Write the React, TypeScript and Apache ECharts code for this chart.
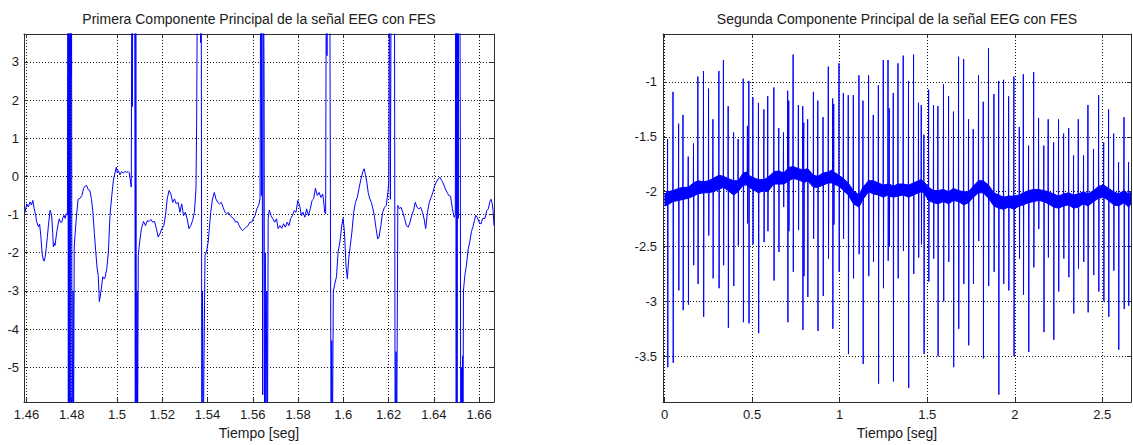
import React, { useEffect, useRef } from "react";
import * as echarts from "echarts";

// ---- text -----------------------------------------------------------------
const firstTitle = "Primera Componente Principal de la señal EEG con FES";
const secondTitle = "Segunda Componente Principal de la señal EEG con FES";
const timeLabel = "Tiempo [seg]";

// ---- first principal component (zoomed window, seconds / amplitude) -------
// Values beyond the visible range (6 / -7) are the saturated FES artefacts.
const firstComponent: Array<[number, number]> = [
  [1.4589, -0.93], [1.4594, -0.93], [1.4601, -0.72], [1.4608, -0.8], [1.4616, -0.67],
  [1.4622, -0.75], [1.4628, -0.63], [1.4634, -0.85], [1.464, -1.0], [1.4645, -1.19],
  [1.4653, -1.32], [1.4658, -1.25], [1.4663, -1.54], [1.4669, -2.02], [1.4675, -2.2],
  [1.4678, -2.22], [1.4683, -2.1], [1.4687, -1.89], [1.4692, -1.6], [1.4697, -1.28],
  [1.4704, -0.89], [1.4708, -0.95], [1.4712, -1.09], [1.4716, -1.5], [1.4719, -1.85],
  [1.4723, -1.75], [1.4726, -1.81], [1.4734, -1.45], [1.474, -1.25], [1.4745, -1.11],
  [1.475, -1.2], [1.4756, -1.2], [1.4761, -1.08], [1.4766, -1.02], [1.4771, -1.1],
  [1.4775, -0.98], [1.4781, -1.0],
  // artefact 1
  [1.4783, 6], [1.4785, -7], [1.4787, 6], [1.4789, -7], [1.4791, 6], [1.4793, -7],
  [1.4795, 6], [1.4797, 2.6], [1.4799, 6], [1.4801, -7], [1.4804, -7], [1.4806, -3],
  [1.4808, -7],
  [1.4811, -1.85], [1.4815, -1.5], [1.482, -1.1], [1.4828, -0.6], [1.4836, -0.58],
  [1.4845, -0.5], [1.4852, -0.32], [1.4858, -0.26], [1.4866, -0.24], [1.4873, -0.35],
  [1.488, -0.37], [1.4887, -0.6], [1.4893, -0.9], [1.49, -1.5], [1.4906, -1.97],
  [1.4912, -2.4], [1.4917, -2.59], [1.4922, -3.28], [1.4929, -3.02], [1.4937, -2.63],
  [1.4942, -2.68], [1.4947, -2.66], [1.4955, -2.41], [1.4962, -1.98], [1.4969, -1.02],
  [1.4977, -0.5], [1.4984, -0.1], [1.4992, 0.12], [1.4997, 0.24], [1.5001, 0.1],
  [1.5006, 0.15], [1.5013, 0.04], [1.502, 0.12], [1.5028, 0.09], [1.5036, 0.13],
  [1.5043, 0.1], [1.5049, 0.13], [1.5054, 0.1], [1.506, -0.15], [1.5063, -0.28],
  // artefact 2
  [1.5066, 6], [1.5068, 1.83], [1.507, 6], [1.5078, 6], [1.5081, -7], [1.5083, 6],
  [1.5086, -7], [1.5089, -3.0], [1.5091, -7],
  [1.5094, -2.07], [1.51, -1.72], [1.5108, -1.37], [1.5117, -1.18], [1.5126, -1.29],
  [1.5134, -1.16], [1.5142, -1.18], [1.515, -1.13], [1.5158, -1.2], [1.5166, -1.18],
  [1.5174, -1.37], [1.5182, -1.59], [1.519, -1.5], [1.5198, -1.37], [1.5207, -1.29],
  [1.5214, -1.03], [1.5222, -0.59], [1.523, -0.37], [1.5238, -0.46], [1.5246, -0.68],
  [1.5254, -0.59], [1.5262, -0.72], [1.527, -0.68], [1.5278, -0.94], [1.5286, -0.72],
  [1.5294, -1.03], [1.5302, -0.94], [1.531, -1.11], [1.5318, -1.37], [1.5326, -1.29],
  [1.5334, -1.16], [1.5342, -0.94], [1.5349, -0.33],
  // artefact 3
  [1.5352, 1.42], [1.5356, 6], [1.5366, 6], [1.537, 3.5], [1.5372, 6], [1.5375, -7],
  [1.5378, -3.0], [1.5381, -7],
  [1.5389, -2.07], [1.5396, -1.95], [1.5403, -1.72], [1.5409, -1.3], [1.5414, -0.94],
  [1.5422, -0.59], [1.543, -0.42], [1.5437, -0.59], [1.5445, -0.68], [1.5453, -0.72],
  [1.5461, -0.68], [1.5469, -0.81], [1.5477, -0.94], [1.5485, -0.98], [1.5492, -0.94],
  [1.55, -1.03], [1.5508, -1.07], [1.5516, -1.11], [1.5524, -1.2], [1.5532, -1.18],
  [1.554, -1.29], [1.5547, -1.37], [1.5555, -1.42], [1.5563, -1.37], [1.5571, -1.33],
  [1.5579, -1.29], [1.5587, -1.2], [1.5595, -1.2], [1.5602, -1.11], [1.561, -1.03],
  [1.5618, -0.85], [1.5626, -0.76], [1.5632, -0.59],
  // artefact 4
  [1.5635, 6], [1.5638, -0.5], [1.564, 6], [1.5644, -5.72], [1.5647, 6], [1.565, 2.5],
  [1.5652, -7], [1.5655, -2.0], [1.5658, -7], [1.5662, -3.0], [1.5665, -7],
  [1.5668, -1.11], [1.5673, -0.88], [1.5681, -1.03], [1.5689, -1.11], [1.5697, -1.2],
  [1.5705, -1.11], [1.5712, -1.37], [1.572, -1.29], [1.5728, -1.36], [1.5736, -1.24],
  [1.5744, -1.33], [1.5752, -1.2], [1.576, -1.29], [1.5767, -1.11], [1.5775, -1.03],
  [1.5783, -0.9], [1.5791, -0.94], [1.5799, -0.63], [1.5807, -0.76], [1.5815, -1.03],
  [1.5822, -0.94], [1.583, -1.07], [1.5838, -0.85], [1.5846, -1.03], [1.5854, -0.85],
  [1.5862, -0.63], [1.5869, -0.59], [1.5877, -0.31], [1.5885, -0.5], [1.5893, -0.42],
  [1.5901, -0.55], [1.5909, -0.46], [1.5914, -0.7], [1.5918, -0.94], [1.5922, -0.98],
  // artefact 5
  [1.5925, 6], [1.5928, 3.16], [1.5931, 6], [1.594, 6], [1.5946, -7], [1.5949, -4.3],
  [1.5952, -7],
  [1.5956, -3.01], [1.5963, -2.8], [1.597, -2.63], [1.5977, -1.98], [1.5985, -1.72],
  [1.5993, -1.3], [1.5999, -1.1], [1.6005, -1.45], [1.6012, -2.33], [1.6018, -2.68],
  [1.6024, -2.15], [1.6031, -1.81], [1.6038, -1.46], [1.6046, -0.94], [1.6054, -0.68],
  [1.6062, -0.55], [1.607, -0.3], [1.6078, -0.07], [1.6086, 0.12], [1.6092, 0.2],
  [1.6098, 0.05], [1.6104, -0.15], [1.611, -0.42], [1.6117, -0.59], [1.6124, -0.68],
  [1.6131, -0.85], [1.6138, -1.07], [1.6145, -1.37], [1.6152, -1.64], [1.6158, -1.59],
  [1.6166, -1.29], [1.6174, -0.94], [1.6182, -0.81], [1.619, -0.76], [1.6197, -0.42],
  [1.6201, -0.15],
  // artefact 6
  [1.6204, 6], [1.6208, -0.6], [1.6212, 6], [1.6226, 6], [1.6229, -7], [1.6233, -4.59],
  [1.6236, -7],
  [1.6241, -0.76], [1.6248, -0.85], [1.6255, -0.81], [1.6263, -0.94], [1.6271, -1.11],
  [1.6279, -1.29], [1.6287, -1.33], [1.6295, -1.2], [1.6302, -1.03], [1.631, -0.9],
  [1.6318, -0.68], [1.6326, -0.81], [1.6334, -0.85], [1.6342, -0.81], [1.635, -0.94],
  [1.6357, -1.11], [1.6364, -1.37], [1.6372, -0.94], [1.638, -0.68], [1.6388, -0.55],
  [1.6396, -0.42], [1.6404, -0.24], [1.6411, -0.15], [1.6419, -0.07], [1.6427, -0.02],
  [1.6435, -0.11], [1.6443, -0.2], [1.6451, -0.33], [1.6459, -0.42], [1.6466, -0.5],
  [1.6474, -0.52], [1.6482, -0.85], [1.649, -1.07], [1.6495, -1.0],
  // artefact 7
  [1.6497, 6], [1.6499, -7], [1.6501, 6], [1.6503, -7], [1.6505, 6], [1.6508, -1.1],
  [1.651, 6], [1.6515, 6], [1.6517, 1.4], [1.6519, -7], [1.6522, -5.0], [1.6524, -7],
  [1.6527, -4.7], [1.6529, -7],
  [1.6531, -3.0], [1.6537, -2.6], [1.6544, -2.33], [1.6552, -1.9], [1.6559, -1.72],
  [1.6566, -1.45], [1.6573, -1.32], [1.658, -1.15], [1.6585, -1.02], [1.6592, -1.07],
  [1.66, -1.2], [1.6608, -1.25], [1.6616, -1.1], [1.6626, -1.1], [1.6634, -0.9],
  [1.6641, -0.85], [1.6648, -0.65], [1.6653, -0.6], [1.6658, -0.7], [1.6662, -0.9],
  [1.6666, -1.29],
];

// ---- second principal component (full record) -----------------------------
// One entry per stimulation artefact: time, positive peak, negative peak.
const secondSpikeTimes = [
  0.017, 0.048, 0.08, 0.105, 0.135, 0.165, 0.19, 0.222, 0.251, 0.276,
  0.31, 0.336, 0.363, 0.394, 0.42, 0.449, 0.473, 0.481, 0.504, 0.536,
  0.567, 0.589, 0.624, 0.652, 0.679, 0.703, 0.709, 0.734, 0.764, 0.789,
  0.795, 0.817, 0.85, 0.875, 0.905, 0.935, 0.96, 0.966, 0.996, 1.021,
  1.049, 1.078, 1.11, 1.133, 1.165, 1.192, 1.221, 1.249, 1.276, 1.283,
  1.306, 1.333, 1.363, 1.393, 1.422, 1.45, 1.466, 1.481, 1.508, 1.536,
  1.561, 1.593, 1.622, 1.65, 1.679, 1.708, 1.736, 1.763, 1.793, 1.82,
  1.85, 1.881, 1.908, 1.936, 1.965, 1.995, 2.026, 2.049, 2.079, 2.108,
  2.136, 2.166, 2.191, 2.222, 2.25, 2.279, 2.308, 2.336, 2.363, 2.393,
  2.418, 2.45, 2.479, 2.508, 2.536, 2.565, 2.593, 2.624, 2.65,
];
const secondSpikeHigh = [
  -1.52, -1.09, -1.38, -1.3, -1.68, -1.56, -0.95, -0.9, -1.06, -1.34,
  -0.9, -0.8, -1.22, -1.46, -1.52, -0.97, -1.4, -0.99, -1.14, -1.19,
  -1.25, -1.13, -1.05, -1.42, -1.46, -1.08, -1.17, -0.75, -1.21, -1.22,
  -1.37, -1.34, -1.09, -1.17, -1.32, -0.86, -1.15, -1.2, -0.83, -1.1,
  -1.12, -1.12, -0.94, -1.17, -0.94, -1.3, -1.03, -0.8, -0.8, -1.24,
  -1.1, -0.83, -0.76, -0.99, -0.75, -1.19, -1.21, -1.48, -1.07, -1.21,
  -1.22, -1.02, -1.13, -1.27, -0.77, -0.79, -1.34, -1.43, -0.94, -1.18,
  -0.69, -1.11, -0.99, -0.98, -1.13, -0.95, -1.41, -0.93, -1.58, -0.91,
  -1.33, -1.58, -1.34, -1.55, -1.34, -1.47, -1.42, -1.67, -1.34, -1.67,
  -1.21, -1.61, -1.12, -1.55, -1.25, -1.47, -1.73, -1.32, -1.73,
];
const secondSpikeLow = [
  -3.6, -3.56, -2.9, -3.08, -3.03, -2.67, -2.84, -3.14, -2.4, -2.79,
  -2.88, -2.67, -3.24, -2.86, -2.49, -3.19, -2.29, -3.2, -2.48, -3.29,
  -2.46, -2.36, -2.81, -2.55, -2.14, -3.19, -2.36, -2.73, -2.35, -3.26,
  -2.77, -2.96, -2.43, -3.27, -2.95, -2.61, -3.25, -2.3, -2.73, -2.43,
  -3.48, -2.79, -2.57, -3.57, -2.77, -2.64, -3.75, -2.88, -2.63, -2.5,
  -3.73, -2.79, -2.54, -3.79, -2.75, -2.6, -2.48, -3.48, -2.82, -2.61,
  -3.5, -3.0, -2.64, -3.6, -3.25, -2.84, -3.4, -2.84, -2.45, -3.52,
  -2.86, -2.73, -3.85, -2.84, -2.9, -3.5, -2.61, -2.94, -3.46, -2.69,
  -2.34, -3.28, -2.6, -3.35, -2.91, -2.61, -2.78, -3.11, -2.7, -2.64,
  -3.1, -2.76, -2.91, -3.0, -3.14, -2.72, -3.44, -3.07, -3.04,
];
// Envelope of the noisy background: record start, one value after every
// artefact, record end.
const secondRecordStart = 0.002;
const secondRecordEnd = 2.664;
const secondBandTop = [
  -2.02, -2.0, -1.99, -1.97, -1.96, -1.96, -1.92, -1.9, -1.91, -1.9,
  -1.88, -1.85, -1.86, -1.88, -1.9, -1.9, -1.83, -1.82, -1.85, -1.87,
  -1.89, -1.89, -1.87, -1.82, -1.81, -1.83, -1.79, -1.78, -1.77, -1.79,
  -1.8, -1.8, -1.79, -1.85, -1.86, -1.83, -1.82, -1.8, -1.82, -1.85,
  -1.88, -1.92, -1.99, -2.03, -1.96, -1.9, -1.9, -1.92, -1.94, -1.93,
  -1.93, -1.95, -1.93, -1.93, -1.94, -1.92, -1.9, -1.89, -1.91, -1.96,
  -1.99, -1.99, -1.98, -2.0, -1.97, -1.99, -2.0, -2.0, -1.95, -1.9,
  -1.9, -1.94, -2.01, -2.03, -2.05, -2.04, -2.04, -2.03, -2.01, -1.99,
  -1.98, -1.98, -1.99, -2.0, -2.02, -2.04, -2.02, -2.01, -2.03, -2.02,
  -2.0, -2.02, -1.99, -1.95, -1.94, -1.97, -2.0, -2.02, -1.99, -2.02,
  -2.0,
];
const secondBandBottom = [
  -2.13, -2.12, -2.09, -2.08, -2.07, -2.06, -2.04, -2.02, -2.01, -2.01,
  -2.0, -1.98, -1.96, -1.99, -2.03, -2.0, -1.94, -1.94, -1.96, -1.98,
  -2.01, -1.99, -2.0, -1.93, -1.93, -1.93, -1.91, -1.9, -1.88, -1.89,
  -1.91, -1.92, -1.9, -1.96, -1.96, -1.94, -1.92, -1.92, -1.93, -1.95,
  -1.99, -2.03, -2.11, -2.14, -2.07, -2.0, -2.02, -2.03, -2.05, -2.03,
  -2.04, -2.05, -2.04, -2.03, -2.05, -2.03, -2.01, -2.0, -2.01, -2.08,
  -2.1, -2.11, -2.09, -2.11, -2.08, -2.09, -2.12, -2.1, -2.05, -2.01,
  -2.01, -2.06, -2.13, -2.15, -2.16, -2.14, -2.16, -2.13, -2.12, -2.1,
  -2.09, -2.08, -2.09, -2.11, -2.14, -2.15, -2.13, -2.12, -2.15, -2.14,
  -2.11, -2.13, -2.09, -2.06, -2.05, -2.08, -2.12, -2.13, -2.1, -2.14,
  -2.11,
];

// ---- axis windows -----------------------------------------------------------
const firstX = { min: 1.4589, max: 1.6666, step: 0.02 };
const firstY = { min: -5.91, max: 3.73, step: 1 };
const secondX = { min: -0.0092, max: 2.664, step: 0.5 };
const secondY = { min: -3.917, max: -0.5625, step: 0.5 };

const FONT = '"Liberation Sans", Arial, Helvetica, sans-serif';
const INK = "#1a1a1a";
const FRAME = "#2e2e2e";
const TRACE = "#0000ff";

function axisPair(
  kind: "x" | "y",
  gridIndex: number,
  range: { min: number; max: number; step: number },
  labelMargin: number,
  withName: boolean
) {
  const common = {
    type: "value",
    gridIndex,
    min: range.min,
    max: range.max,
    minInterval: range.step,
    maxInterval: range.step,
    splitNumber: Math.round((range.max - range.min) / range.step),
    axisLine: { show: true, onZero: false, lineStyle: { color: FRAME, width: 1 } },
    axisTick: { show: true, inside: true, length: 4, lineStyle: { color: FRAME, width: 1 } },
  };
  const main: any = {
    ...common,
    position: kind === "x" ? "bottom" : "left",
    axisLabel: {
      show: true,
      color: INK,
      fontFamily: FONT,
      fontSize: 13,
      margin: labelMargin,
      showMinLabel: false,
      showMaxLabel: false,
    },
    splitLine: { show: true, lineStyle: { color: "#111", width: 1, type: [1, 2] } },
  };
  if (withName) {
    main.name = timeLabel;
    main.nameLocation = "middle";
    main.nameGap = 24;
    main.nameTextStyle = { color: INK, fontFamily: FONT, fontSize: 14 };
  }
  const mirror = {
    ...common,
    position: kind === "x" ? "top" : "right",
    axisLabel: { show: false },
    splitLine: { show: false },
  };
  return [main, mirror];
}

export default function App() {
  const ref = useRef<HTMLDivElement>(null);

  useEffect(() => {
    if (!ref.current) return;
    const chart = echarts.init(ref.current, undefined, { renderer: "svg" });

    // Background band of the second component, outlined by its envelope.
    const bandTimes = [secondRecordStart, ...secondSpikeTimes, secondRecordEnd];
    const bandOutline: Array<[number, number]> = [
      ...bandTimes.map((t, i) => [t, secondBandTop[i]] as [number, number]),
      ...bandTimes
        .map((t, i) => [t, secondBandBottom[i]] as [number, number])
        .reverse(),
    ];

    const spikeTrace: Array<[number, number]> = [];
    secondSpikeTimes.forEach((t, i) => {
      const mid = (secondBandTop[i + 1] + secondBandBottom[i + 1]) / 2;
      spikeTrace.push(
        [t - 0.0012, mid],
        [t, secondSpikeHigh[i]],
        [t + 0.0012, secondSpikeLow[i]],
        [t + 0.0024, mid]
      );
    });

    const [x0, x1] = axisPair("x", 0, firstX, 6, true);
    const [y0, y1] = axisPair("y", 0, firstY, 5, false);
    const [x2, x3] = axisPair("x", 1, secondX, 6, true);
    const [y2, y3] = axisPair("y", 1, secondY, 6, false);

    const lineBase = {
      type: "line",
      symbol: "none",
      showSymbol: false,
      silent: true,
      clip: true,
      lineStyle: { color: TRACE, width: 1 },
    };

    chart.setOption({
      animation: false,
      backgroundColor: "#ffffff",
      grid: [
        { left: 24, top: 34, width: 470, height: 370, containLabel: false },
        { left: 663, top: 34, width: 468, height: 370, containLabel: false },
      ],
      xAxis: [x0, x1, x2, x3],
      yAxis: [y0, y1, y2, y3],
      graphic: [
        {
          type: "text",
          x: 259,
          y: 19,
          style: { text: firstTitle, font: `14px ${FONT}`, fill: INK, align: "center", verticalAlign: "middle" },
        },
        {
          type: "text",
          x: 897,
          y: 19,
          style: { text: secondTitle, font: `14px ${FONT}`, fill: INK, align: "center", verticalAlign: "middle" },
        },
      ],
      series: [
        { ...lineBase, name: "PC1", xAxisIndex: 0, yAxisIndex: 0, data: firstComponent },
        {
          type: "custom",
          name: "PC2 fondo",
          xAxisIndex: 2,
          yAxisIndex: 2,
          silent: true,
          clip: true,
          data: bandOutline,
          encode: { x: 0, y: 1 },
          renderItem: (params: any, api: any) => {
            if (params.dataIndex !== 0) return null;
            const points = bandOutline.map((p) => api.coord(p));
            return {
              type: "polygon",
              shape: { points },
              style: { fill: TRACE, stroke: TRACE, lineWidth: 1 },
            };
          },
        },
        { ...lineBase, name: "PC2", xAxisIndex: 2, yAxisIndex: 2, data: spikeTrace },
      ],
    });

    return () => chart.dispose();
  }, []);

  return (
    <div
      ref={ref}
      style={{ position: "absolute", left: 0, top: 0, width: 1133, height: 445, background: "#fff" }}
    />
  );
}
